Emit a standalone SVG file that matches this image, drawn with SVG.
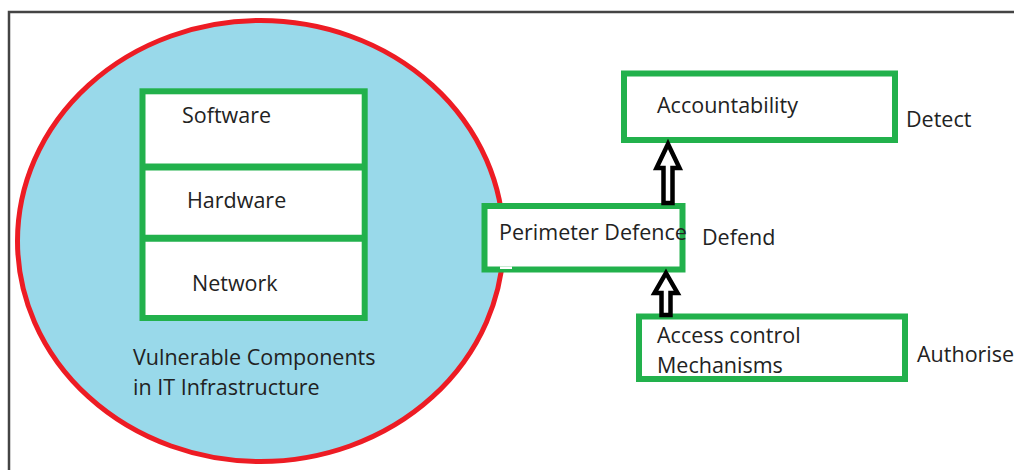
<svg xmlns="http://www.w3.org/2000/svg" width="1014" height="470" viewBox="0 0 1014 470">
  <style>
    .box { fill: #ffffff; stroke: #22b14c; stroke-width: 6; }
    .lbl { font-family: "Open Sans", "Liberation Sans", sans-serif; font-size: 21.5px; fill: #222222; }
    .arrow { fill: #ffffff; stroke: #000000; stroke-width: 4.5; stroke-linejoin: miter; }
  </style>
  <rect x="0" y="0" width="1014" height="470" fill="#ffffff"/>
  <g id="frame">
    <path d="M 9 480 L 9 12 L 1020 12" fill="none" stroke="#444444" stroke-width="2.5"/>
  </g>
  <g id="infrastructure">
    <ellipse cx="260.5" cy="241" rx="243" ry="220.5" fill="#99d9ea" stroke="#ed1c24" stroke-width="5"/>
    <text class="lbl" x="133" y="365">Vulnerable Components</text>
    <text class="lbl" x="133" y="395">in IT Infrastructure</text>
  </g>
  <g id="components">
    <rect class="box" x="142.5" y="91.3" width="222.2" height="226.7"/>
    <line x1="142.5" y1="167" x2="364.7" y2="167" stroke="#22b14c" stroke-width="7"/>
    <line x1="142.5" y1="238.3" x2="364.7" y2="238.3" stroke="#22b14c" stroke-width="7"/>
  </g>
  <g id="software">
    <text class="lbl" x="182" y="123">Software</text>
  </g>
  <g id="hardware">
    <text class="lbl" x="187" y="208">Hardware</text>
  </g>
  <g id="network">
    <text class="lbl" x="192" y="291">Network</text>
  </g>
  <g id="accountability">
    <rect class="box" x="624" y="73.5" width="271" height="66.5"/>
    <text class="lbl" x="657" y="113">Accountability</text>
    <text class="lbl" x="906" y="127">Detect</text>
  </g>
  <g id="perimeter">
    <rect class="box" x="484.5" y="206" width="198" height="63.5"/>
    <rect x="500" y="266.5" width="12" height="2.5" fill="#ffffff"/>
    <text class="lbl" x="499" y="240">Perimeter Defence</text>
    <text class="lbl" x="702" y="245">Defend</text>
  </g>
  <g id="access">
    <rect class="box" x="639" y="316.5" width="266" height="62.5"/>
    <text class="lbl" x="657" y="343">Access control</text>
    <text class="lbl" x="657" y="373">Mechanisms</text>
    <text class="lbl" x="917" y="362">Authorise</text>
  </g>
  <g id="connectors">
    <polygon class="arrow" points="668,144 679.5,168 672.5,168 672.5,203 663.5,203 663.5,168 656.5,168"/>
    <polygon class="arrow" points="666,273 677.5,293 670.5,293 670.5,315 661.5,315 661.5,293 654.5,293"/>
  </g>
</svg>
